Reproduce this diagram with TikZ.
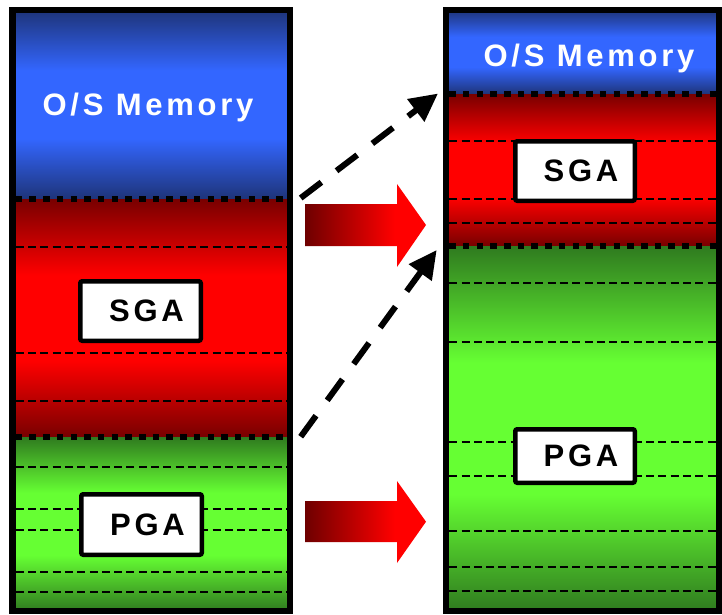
\documentclass[tikz,border=0pt]{standalone}
\usepackage{fontspec}
\newfontfamily\lblfont{Liberation Sans}[LetterSpace=12]
\usetikzlibrary{arrows.meta}
\definecolor{bdark}{HTML}{1E3479}
\definecolor{bbright}{HTML}{3366FF}
\definecolor{rdark}{HTML}{780000}
\definecolor{rbright}{HTML}{FF0000}
\definecolor{gdark}{HTML}{2F7A1F}
\definecolor{gbright}{HTML}{66FF33}
\definecolor{adark}{HTML}{6E0000}
\pgfdeclareverticalshading{blueband}{100bp}{color(0bp)=(bdark); color(25bp)=(bdark); color(41bp)=(bbright); color(59bp)=(bbright); color(75bp)=(bdark); color(100bp)=(bdark)}
\pgfdeclareverticalshading{redband}{100bp}{color(0bp)=(rdark); color(25bp)=(rdark); color(41bp)=(rbright); color(59bp)=(rbright); color(75bp)=(rdark); color(100bp)=(rdark)}
\pgfdeclareverticalshading{greenband}{100bp}{color(0bp)=(gdark); color(25bp)=(gdark); color(41bp)=(gbright); color(59bp)=(gbright); color(75bp)=(gdark); color(100bp)=(gdark)}
\pgfdeclarehorizontalshading{arrowshade}{100bp}{color(0bp)=(adark); color(25bp)=(adark); color(62bp)=(rbright); color(100bp)=(rbright)}
\tikzset{
  colborder/.style={draw=black, line width=6.5pt},
  sepdots/.style={draw=black, line width=6pt, dash pattern=on 6.5pt off 7.2pt},
  thindash/.style={draw=black, line width=1.2pt, dash pattern=on 8pt off 4.3pt},
  ostext/.style={text=white, inner sep=0pt, anchor=base, font=\lblfont\bfseries\fontsize{31}{31}\selectfont},
  membox/.style={draw=black, line width=4.5pt, fill=white, rounded corners=2pt, inner sep=0pt, text=black, font=\lblfont\bfseries\fontsize{31}{31}\selectfont},
  dasharrow/.style={draw=black, line width=6pt, dash pattern=on 26pt off 19pt, -{Triangle[length=28pt,width=27pt]}},
  blockarrow/.style={shading=arrowshade}
}
\begin{document}
\begin{tikzpicture}[x=1pt,y=-1pt]
\useasboundingbox (0,0) rectangle (722,614);
\fill[white] (0,0) rectangle (722,614);
% ---- left column bands
\shade[shading=blueband] (12.5,10) rectangle (290,199);
\shade[shading=redband] (12.5,199) rectangle (290,437);
\shade[shading=greenband] (12.5,437) rectangle (290,611);
% ---- right column bands
\shade[shading=blueband] (446,10) rectangle (719.5,94);
\shade[shading=redband] (446,94) rectangle (719.5,246);
\shade[shading=greenband] (446,246) rectangle (719.5,611);
% ---- thin dashed lines
\foreach \yy in {247,353,401,467,509,530,572,592}
  \draw[thindash] (15.75,\yy) -- (286.75,\yy);
\foreach \yy in {141,199,223,283,342,442,476,531,567,591}
  \draw[thindash] (449.25,\yy) -- (716.25,\yy);
% ---- dotted separators
\draw[sepdots] (15.75,199) -- (286.75,199);
\draw[sepdots] (15.75,437) -- (286.75,437);
\draw[sepdots] (449.25,94) -- (716.25,94);
\draw[sepdots] (449.25,246) -- (716.25,246);
% ---- labels
\node[ostext] (osL) at (148,115) {O/S Memory};
\node[ostext] (osR) at (589,66.5) {O/S Memory};
\node[membox, minimum width=120.5pt, minimum height=59.5pt] (sgaL) at (140.5,311) {\hspace*{12pt}SGA};
\node[membox, minimum width=120.5pt, minimum height=60.5pt] (pgaL) at (141.5,524.5) {\hspace*{12pt}PGA};
\node[membox, minimum width=119.5pt, minimum height=59.5pt] (sgaR) at (575,171) {\hspace*{12pt}SGA};
\node[membox, minimum width=119.5pt, minimum height=53.5pt] (pgaR) at (575,456) {\hspace*{12pt}PGA};
% ---- column borders
\draw[colborder] (12.5,10) rectangle (290,611);
\draw[colborder] (446,10) rectangle (719.5,611);
% ---- block arrows
\shade[blockarrow] (305,204) -- (397,204) -- (397,184) -- (426,225) -- (397,267) -- (397,246) -- (305,246) -- cycle;
\shade[blockarrow] (305,501) -- (397,501) -- (397,481) -- (426,521.7) -- (397,563) -- (397,542) -- (305,542) -- cycle;
% ---- dashed arrows
\coordinate (a1s) at (300.7,198);
\coordinate (a1e) at (438,93.5);
\coordinate (a2s) at (300.7,436.7);
\coordinate (a2e) at (436.7,250);
\draw[dasharrow] (a1s) -- (a1e);
\draw[dasharrow] (a2s) -- (a2e);
\end{tikzpicture}
\end{document}
